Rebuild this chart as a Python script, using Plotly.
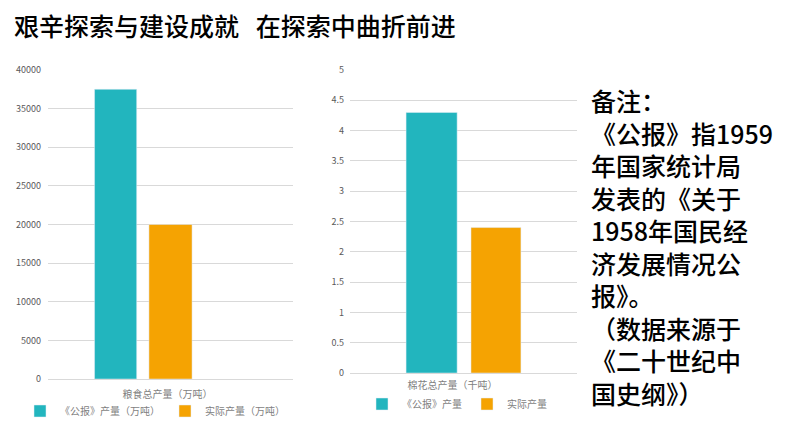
import plotly.graph_objects as go

# ---- data ----
title_text = "艰辛探索与建设成就\u2002\u2006在探索中曲折前进"
grain_category = ["粮食总产量（万吨）"]
grain_reported = [37500]
grain_actual = [20000]
grain_names = ["《公报》产量（万吨）", "实际产量（万吨）"]

cotton_category = ["棉花总产量（千吨）"]
cotton_reported = [4.3]
cotton_actual = [2.4]
cotton_names = ["《公报》产量", "实际产量"]

note_lines = [
    "备注：",
    "《公报》指1959",
    "年国家统计局",
    "发表的《关于",
    "1958年国民经",
    "济发展情况公",
    "报》。",
    "（数据来源于",
    "《二十世纪中",
    "国史纲》）",
]

TEAL = "#22B5BE"
ORANGE = "#F5A302"
GRID = "#D9D9D9"
TICK = "#595959"
LBL = "#7F7F7F"
FONT = "Noto Sans CJK SC"

# page body has an 8px margin; lay the figure out in window pixels
OFF = 8
W, H = 794 - OFF, 447 - OFF


def px(x):
    return (x - OFF) / W


def py(y):
    return 1 - (y - OFF) / H


fig = go.Figure()

fig.add_trace(go.Bar(x=grain_category, y=grain_reported, name=grain_names[0],
                     marker_color=TEAL, width=0.172, offset=-0.31,
                     xaxis="x", yaxis="y", legend="legend"))
fig.add_trace(go.Bar(x=grain_category, y=grain_actual, name=grain_names[1],
                     marker_color=ORANGE, width=0.176, offset=-0.088,
                     xaxis="x", yaxis="y", legend="legend"))
fig.add_trace(go.Bar(x=cotton_category, y=cotton_reported, name=cotton_names[0],
                     marker_color=TEAL, width=0.225, offset=-0.253,
                     xaxis="x2", yaxis="y2", legend="legend2"))
fig.add_trace(go.Bar(x=cotton_category, y=cotton_actual, name=cotton_names[1],
                     marker_color=ORANGE, width=0.22, offset=0.033,
                     xaxis="x2", yaxis="y2", legend="legend2"))

axis_common = dict(showline=False, ticks="", tickfont=dict(size=9, color=TICK, family=FONT))

fig.update_layout(
    width=W, height=H,
    margin=dict(l=0, r=0, t=0, b=0, autoexpand=False),
    paper_bgcolor="white", plot_bgcolor="white",
    barmode="overlay",
    font=dict(family=FONT, color=TICK),
    xaxis=dict(domain=(px(48), px(293)), anchor="y", showgrid=False, zeroline=False,
               tickfont=dict(size=10, color=LBL, family=FONT),
               ticklabelshift=-3, ticklabelstandoff=8),
    yaxis=dict(domain=(py(379), py(70)), anchor="x", range=[0, 40000], dtick=5000,
               tickformat="d", gridcolor=GRID, zeroline=True, zerolinecolor=GRID,
               zerolinewidth=1, ticklabelstandoff=6, **axis_common),
    xaxis2=dict(domain=(px(350), px(577)), anchor="y2", showgrid=False, zeroline=False,
                tickfont=dict(size=10, color=LBL, family=FONT),
                ticklabelshift=-11, ticklabelstandoff=5),
    yaxis2=dict(domain=(py(373), py(70)), anchor="x2", range=[0, 5], dtick=0.5,
                gridcolor=GRID, zeroline=True, zerolinecolor=GRID, zerolinewidth=1,
                ticklabelstandoff=5, **axis_common),
    legend=dict(orientation="h", x=px(155), xanchor="center", y=py(411), yanchor="middle",
                font=dict(size=10, color=LBL, family=FONT), itemwidth=30,
                bgcolor="rgba(0,0,0,0)", tracegroupgap=0),
    legend2=dict(orientation="h", x=px(457), xanchor="center", y=py(404), yanchor="middle",
                 font=dict(size=10, color=LBL, family=FONT), itemwidth=30,
                 bgcolor="rgba(0,0,0,0)", tracegroupgap=0),
    showlegend=True,
)

annotations = [
    dict(text=title_text, xref="paper", yref="paper",
         x=px(12), y=py(25), xanchor="left", yanchor="middle",
         showarrow=False, font=dict(size=25, color="black", family=FONT, weight=500)),
    dict(text="<br>".join(note_lines), xref="paper", yref="paper",
         x=px(589), y=py(80), xanchor="left", yanchor="top", align="left",
         showarrow=False, font=dict(size=25, color="black", family=FONT, weight=500)),
]
fig.update_layout(annotations=annotations)

fig.write_html("out.html")
